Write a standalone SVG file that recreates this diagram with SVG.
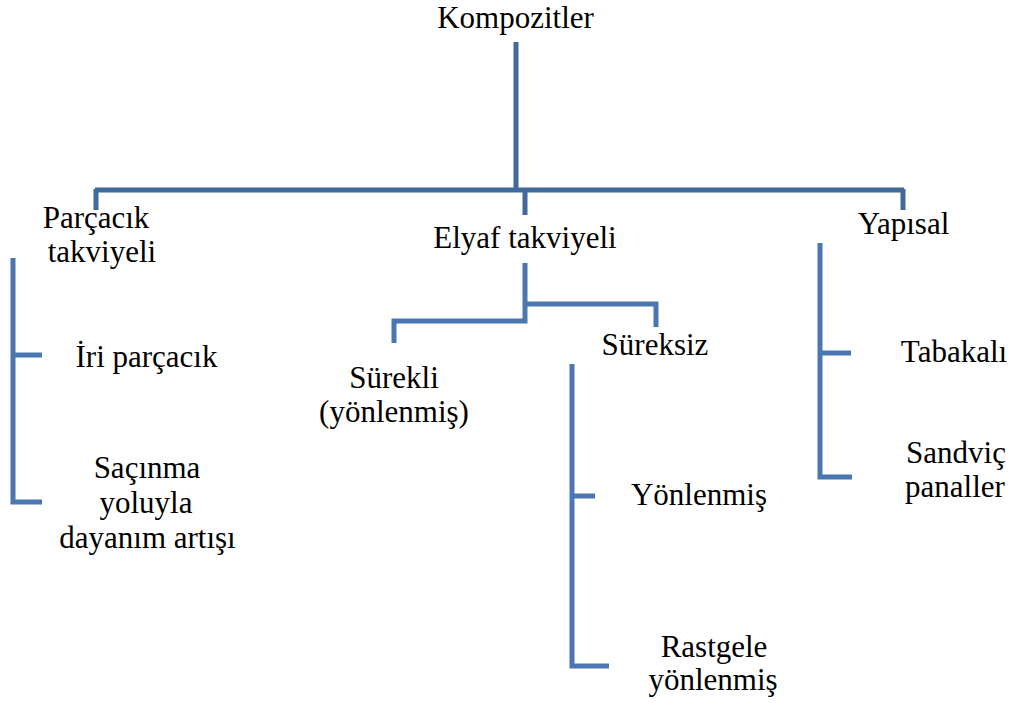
<svg xmlns="http://www.w3.org/2000/svg" width="1012" height="703" viewBox="0 0 1012 703">
<style>
text{font-family:"Liberation Serif","Times New Roman",serif;font-size:31px;fill:#000;text-anchor:middle}
.top{stroke:#41699a;stroke-width:5;fill:none}
.low{stroke:#4a77b1;stroke-width:5;fill:none}
</style>
<rect width="1012" height="703" fill="#fff"/>
<g id="connectors">
<path class="top" d="M516 42V190M95 190H904M96 189V210M525 189V215M903 189V210"/>
<path class="low" d="M525 263V321H394V343M525 304H656V327"/>
<path class="low" d="M13 258V502H42M13 355H42"/>
<path class="low" d="M572 364V666H609M572 496H595"/>
<path class="low" d="M820 243V477H852M820 353H851"/>
</g>
<g id="kompozitler"><text x="515.5" y="28">Kompozitler</text></g>
<g id="parcacik"><text x="96" y="228">Parçacık</text><text x="102" y="262">takviyeli</text></g>
<g id="iri"><text x="146.5" y="367">İri parçacık</text></g>
<g id="sacinma"><text x="147" y="478">Saçınma</text><text x="146" y="513">yoluyla</text><text x="147.5" y="548">dayanım artışı</text></g>
<g id="elyaf"><text x="525" y="248">Elyaf takviyeli</text></g>
<g id="surekli"><text x="394" y="388">Sürekli</text><text x="394" y="422">(yönlenmiş)</text></g>
<g id="sureksiz"><text x="655" y="355">Süreksiz</text></g>
<g id="yonlenmis"><text x="699" y="505">Yönlenmiş</text></g>
<g id="rastgele"><text x="714" y="657">Rastgele</text><text x="713" y="690">yönlenmiş</text></g>
<g id="yapisal"><text x="903.5" y="234">Yapısal</text></g>
<g id="tabakali"><text x="954" y="362">Tabakalı</text></g>
<g id="sandvic"><text x="956" y="463">Sandviç</text><text x="955" y="497">panaller</text></g>
</svg>
